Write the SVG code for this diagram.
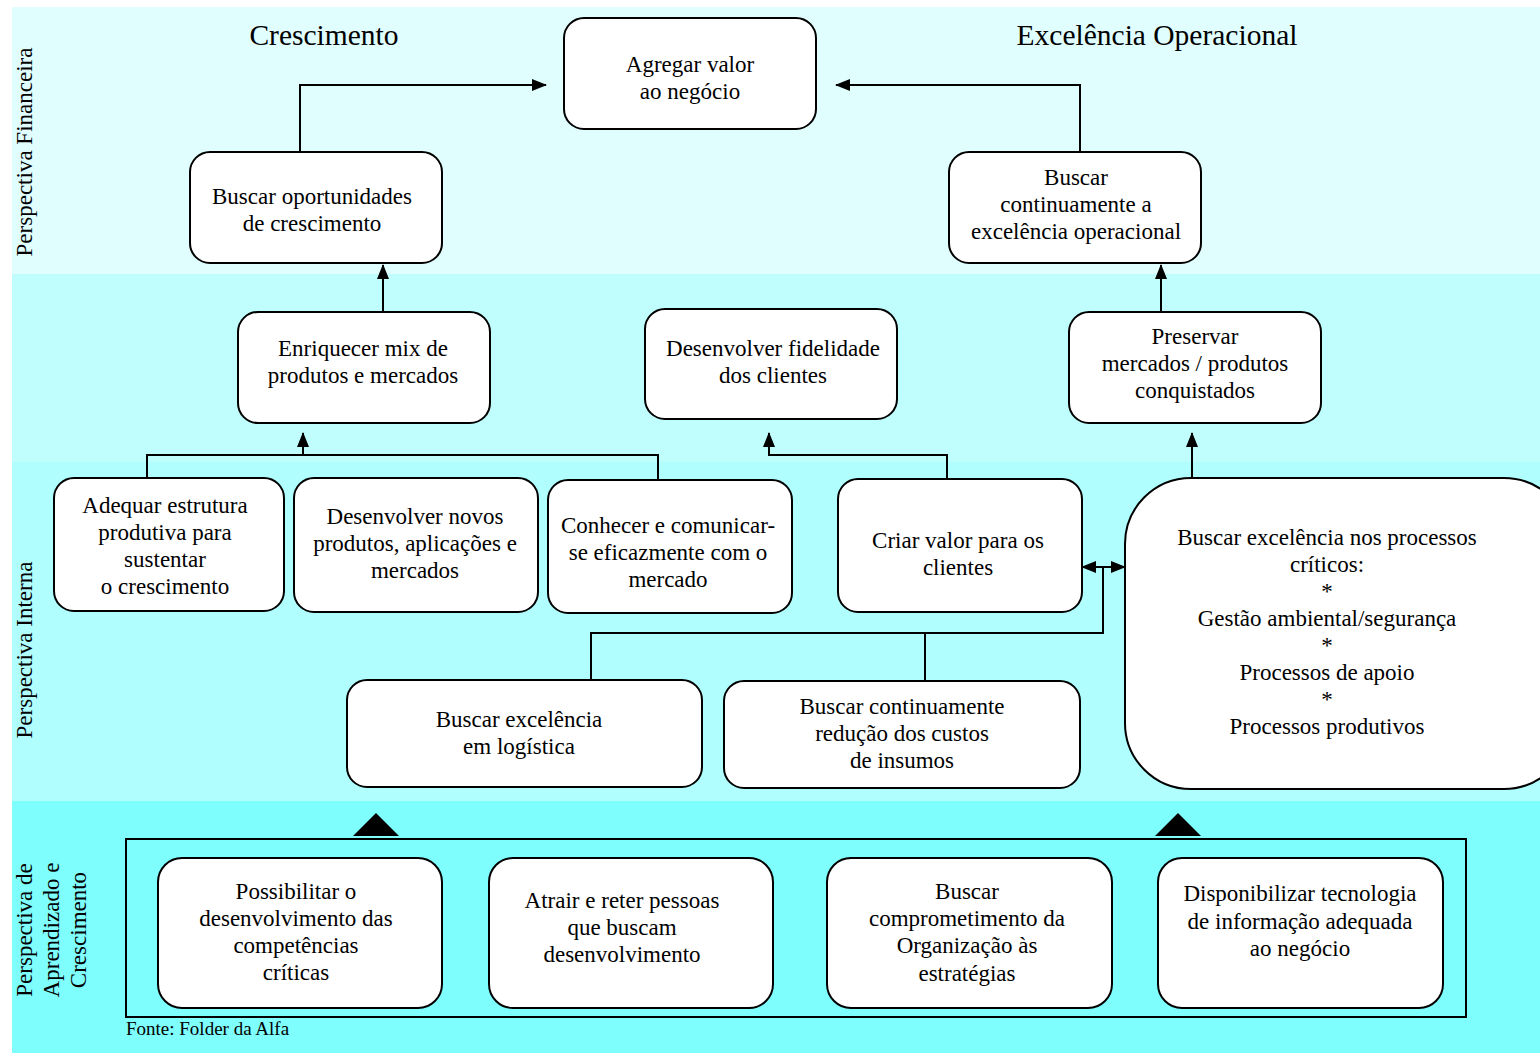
<svg xmlns="http://www.w3.org/2000/svg" width="1540" height="1053" viewBox="0 0 1540 1053">
  <style>
    .node rect { fill: #ffffff; stroke: #000000; stroke-width: 2; }
    .node text, .lbl { font-family: "Liberation Serif", "Times New Roman", serif; font-size: 23px; fill: #000000; text-anchor: middle; }
    .head { font-family: "Liberation Serif", "Times New Roman", serif; font-size: 29.5px; fill: #000000; text-anchor: middle; }
    .src { font-family: "Liberation Serif", "Times New Roman", serif; font-size: 19px; fill: #000000; }
    .wire { fill: none; stroke: #000000; stroke-width: 2; }
    .arr { marker-end: url(#tip); }
  </style>
  <defs>
    <marker id="tip" viewBox="0 0 15 12" refX="14" refY="6" markerWidth="15" markerHeight="12" markerUnits="userSpaceOnUse" orient="auto-start-reverse">
      <path d="M0,0 L15,6 L0,12 Z" fill="#000000"/>
    </marker>
  </defs>

  <!-- perspective bands -->
  <g id="bands">
    <rect x="12" y="7" width="1528" height="267" fill="#e0fefe"/>
    <rect x="12" y="274" width="1528" height="188" fill="#c0fefe"/>
    <rect x="12" y="462" width="1528" height="339" fill="#b0fefe"/>
    <rect x="12" y="801" width="1528" height="252" fill="#7ffefe"/>
  </g>

  <!-- band titles -->
  <g id="band-labels">
    <text class="lbl" transform="translate(32,152) rotate(-90)">Perspectiva Financeira</text>
    <text class="lbl" transform="translate(32,650) rotate(-90)">Perspectiva Interna</text>
    <text class="lbl" transform="translate(32,930) rotate(-90)">Perspectiva de</text>
    <text class="lbl" transform="translate(59,930) rotate(-90)">Aprendizado e</text>
    <text class="lbl" transform="translate(86,930) rotate(-90)">Crescimento</text>
  </g>

  <g id="headings">
    <text class="head" x="324" y="45">Crescimento</text>
    <text class="head" x="1157" y="45">Excelência Operacional</text>
  </g>

  <!-- connectors -->
  <g id="connectors">
    <polyline class="wire arr" points="300,152 300,85 546,85"/>
    <polyline class="wire arr" points="1080,152 1080,85 836,85"/>
    <polyline class="wire arr" points="383,312 383,265"/>
    <polyline class="wire arr" points="1161,312 1161,265"/>
    <polyline class="wire" points="147,478 147,455 658,455 658,480"/>
    <polyline class="wire arr" points="303,455 303,433"/>
    <polyline class="wire arr" points="947,479 947,455 769,455 769,433"/>
    <polyline class="wire arr" points="1192,478 1192,433"/>
    <line class="wire" x1="1082" y1="567" x2="1125" y2="567" marker-start="url(#tip)" marker-end="url(#tip)"/>
    <polyline class="wire" points="1103,567 1103,633 591,633 591,680"/>
    <polyline class="wire" points="925,633 925,681"/>
    <polygon points="353,836 376,813 399,836" fill="#000000"/>
    <polygon points="1155,836 1178,813 1201,836" fill="#000000"/>
  </g>

  <!-- financial perspective -->
  <g id="n-agregar" class="node">
    <rect x="564" y="18" width="252" height="111" rx="20"/>
    <text x="690" y="72">Agregar valor</text>
    <text x="690" y="99">ao negócio</text>
  </g>
  <g id="n-oportunidades" class="node">
    <rect x="190" y="152" width="252" height="111" rx="20"/>
    <text x="312" y="204">Buscar oportunidades</text>
    <text x="312" y="231">de crescimento</text>
  </g>
  <g id="n-excelencia-op" class="node">
    <rect x="949" y="152" width="252" height="111" rx="20"/>
    <text x="1076" y="185">Buscar</text>
    <text x="1076" y="212">continuamente a</text>
    <text x="1076" y="239">excelência operacional</text>
  </g>

  <!-- customer objectives -->
  <g id="n-enriquecer" class="node">
    <rect x="238" y="312" width="252" height="111" rx="20"/>
    <text x="363" y="356">Enriquecer mix de</text>
    <text x="363" y="383">produtos e mercados</text>
  </g>
  <g id="n-fidelidade" class="node">
    <rect x="645" y="309" width="252" height="110" rx="20"/>
    <text x="773" y="356">Desenvolver fidelidade</text>
    <text x="773" y="383">dos clientes</text>
  </g>
  <g id="n-preservar" class="node">
    <rect x="1069" y="312" width="252" height="111" rx="20"/>
    <text x="1195" y="344">Preservar</text>
    <text x="1195" y="371">mercados / produtos</text>
    <text x="1195" y="398">conquistados</text>
  </g>

  <!-- internal processes -->
  <g id="n-adequar" class="node">
    <rect x="54" y="478" width="230" height="133" rx="20"/>
    <text x="165" y="513">Adequar estrutura</text>
    <text x="165" y="540">produtiva para</text>
    <text x="165" y="567">sustentar</text>
    <text x="165" y="594">o crescimento</text>
  </g>
  <g id="n-novos" class="node">
    <rect x="294" y="478" width="244" height="134" rx="20"/>
    <text x="415" y="524">Desenvolver novos</text>
    <text x="415" y="551">produtos, aplicações e</text>
    <text x="415" y="578">mercados</text>
  </g>
  <g id="n-conhecer" class="node">
    <rect x="548" y="480" width="244" height="133" rx="20"/>
    <text x="668" y="533">Conhecer e comunicar-</text>
    <text x="668" y="560">se eficazmente com o</text>
    <text x="668" y="587">mercado</text>
  </g>
  <g id="n-criar" class="node">
    <rect x="838" y="479" width="244" height="133" rx="20"/>
    <text x="958" y="548">Criar valor para os</text>
    <text x="958" y="575">clientes</text>
  </g>
  <g id="n-processos" class="node">
    <rect x="1125" y="478" width="445" height="311" rx="66"/>
    <text x="1327" y="545">Buscar excelência nos processos</text>
    <text x="1327" y="572">críticos:</text>
    <text x="1327" y="599">*</text>
    <text x="1327" y="626">Gestão ambiental/segurança</text>
    <text x="1327" y="653">*</text>
    <text x="1327" y="680">Processos de apoio</text>
    <text x="1327" y="707">*</text>
    <text x="1327" y="734">Processos produtivos</text>
  </g>
  <g id="n-logistica" class="node">
    <rect x="347" y="680" width="355" height="107" rx="20"/>
    <text x="519" y="727">Buscar excelência</text>
    <text x="519" y="754">em logística</text>
  </g>
  <g id="n-custos" class="node">
    <rect x="724" y="681" width="356" height="107" rx="20"/>
    <text x="902" y="714">Buscar continuamente</text>
    <text x="902" y="741">redução dos custos</text>
    <text x="902" y="768">de insumos</text>
  </g>

  <!-- learning and growth -->
  <g id="container">
    <rect x="126" y="839" width="1340" height="178" fill="none" stroke="#000000" stroke-width="2"/>
  </g>
  <g id="n-competencias" class="node">
    <rect x="158" y="858" width="284" height="150" rx="24"/>
    <text x="296" y="899">Possibilitar o</text>
    <text x="296" y="926">desenvolvimento das</text>
    <text x="296" y="953">competências</text>
    <text x="296" y="980">críticas</text>
  </g>
  <g id="n-pessoas" class="node">
    <rect x="489" y="858" width="284" height="150" rx="24"/>
    <text x="622" y="908">Atrair e reter pessoas</text>
    <text x="622" y="935">que buscam</text>
    <text x="622" y="962">desenvolvimento</text>
  </g>
  <g id="n-comprometimento" class="node">
    <rect x="827" y="858" width="285" height="150" rx="24"/>
    <text x="967" y="899">Buscar</text>
    <text x="967" y="926">comprometimento da</text>
    <text x="967" y="953">Organização às</text>
    <text x="967" y="981">estratégias</text>
  </g>
  <g id="n-tecnologia" class="node">
    <rect x="1158" y="858" width="285" height="150" rx="24"/>
    <text x="1300" y="901">Disponibilizar tecnologia</text>
    <text x="1300" y="929">de informação adequada</text>
    <text x="1300" y="956">ao negócio</text>
  </g>

  <text class="src" x="126" y="1035">Fonte: Folder da Alfa</text>
</svg>
